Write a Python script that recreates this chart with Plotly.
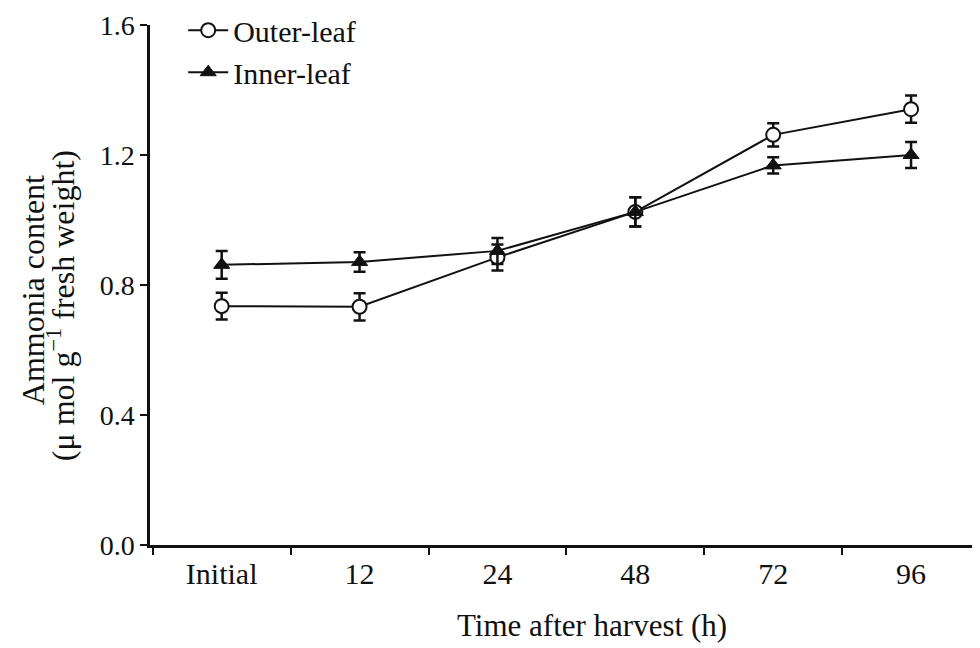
import plotly.graph_objects as go

categories = ["Initial", "12", "24", "48", "72", "96"]
outer_leaf = [0.735, 0.733, 0.885, 1.025, 1.262, 1.341]
outer_err = [0.041, 0.042, 0.040, 0.045, 0.036, 0.042]
inner_leaf = [0.862, 0.871, 0.905, 1.025, 1.168, 1.200]
inner_err = [0.043, 0.030, 0.040, 0.045, 0.025, 0.040]
y_ticks = [0.0, 0.4, 0.8, 1.2, 1.6]

FONT = "Liberation Serif, Times New Roman, serif"
INK = "#111111"

fig = go.Figure()
fig.add_trace(go.Scatter(
    x=categories, y=outer_leaf, name="Outer-leaf", mode="lines+markers",
    line=dict(color=INK, width=2),
    marker=dict(symbol="circle", size=14, color="white", line=dict(color=INK, width=2)),
    error_y=dict(type="data", array=outer_err, color=INK, thickness=2.5, width=6),
))
fig.add_trace(go.Scatter(
    x=categories, y=inner_leaf, name="Inner-leaf", mode="lines+markers",
    line=dict(color=INK, width=2),
    marker=dict(symbol="triangle-up", size=14, color=INK, line=dict(color=INK, width=1)),
    error_y=dict(type="data", array=inner_err, color=INK, thickness=2.5, width=6),
))

fig.update_layout(
    width=972, height=640,
    margin=dict(l=142, r=0, t=17, b=103, autoexpand=False),
    paper_bgcolor="white", plot_bgcolor="white",
    font=dict(family=FONT, size=29, color=INK),
    showlegend=True,
    legend=dict(x=0.04, y=1.04, xanchor="left", yanchor="top",
                bgcolor="rgba(0,0,0,0)", font=dict(size=30, family=FONT),
                tracegroupgap=0, itemwidth=40),
    xaxis=dict(
        type="category", categoryorder="array", categoryarray=categories,
        range=[-0.52, 5.5], showgrid=False, zeroline=False,
        showline=True, linecolor=INK, linewidth=2.5,
        ticks="outside", tickson="boundaries", ticklen=7, tickwidth=2, tickcolor=INK,
        tickfont=dict(size=30, family=FONT),
    ),
    yaxis=dict(
        range=[0, 1.6], tickvals=y_ticks, tickformat=".1f",
        showgrid=False, zeroline=False,
        showline=True, linecolor=INK, linewidth=2.5,
        ticks="outside", ticklen=7, tickwidth=2, tickcolor=INK,
        tickfont=dict(size=28, family=FONT),
    ),
)

fig.add_annotation(
    xref="paper", yref="paper", x=0.533, y=-0.154, xanchor="center", yanchor="middle",
    text="Time after harvest (h)",
    showarrow=False, font=dict(size=31, family=FONT, color=INK),
)
fig.add_annotation(
    xref="paper", yref="paper", x=-0.141, y=0.49, xanchor="center", yanchor="middle",
    text="Ammonia content", textangle=-90,
    showarrow=False, font=dict(size=32, family=FONT, color=INK),
)
fig.add_annotation(
    xref="paper", yref="paper", x=-0.108, y=0.46, xanchor="center", yanchor="middle",
    text="(μ mol g<sup>−1</sup> fresh weight)", textangle=-90,
    showarrow=False, font=dict(size=32, family=FONT, color=INK),
)

fig.write_html("out.html")
